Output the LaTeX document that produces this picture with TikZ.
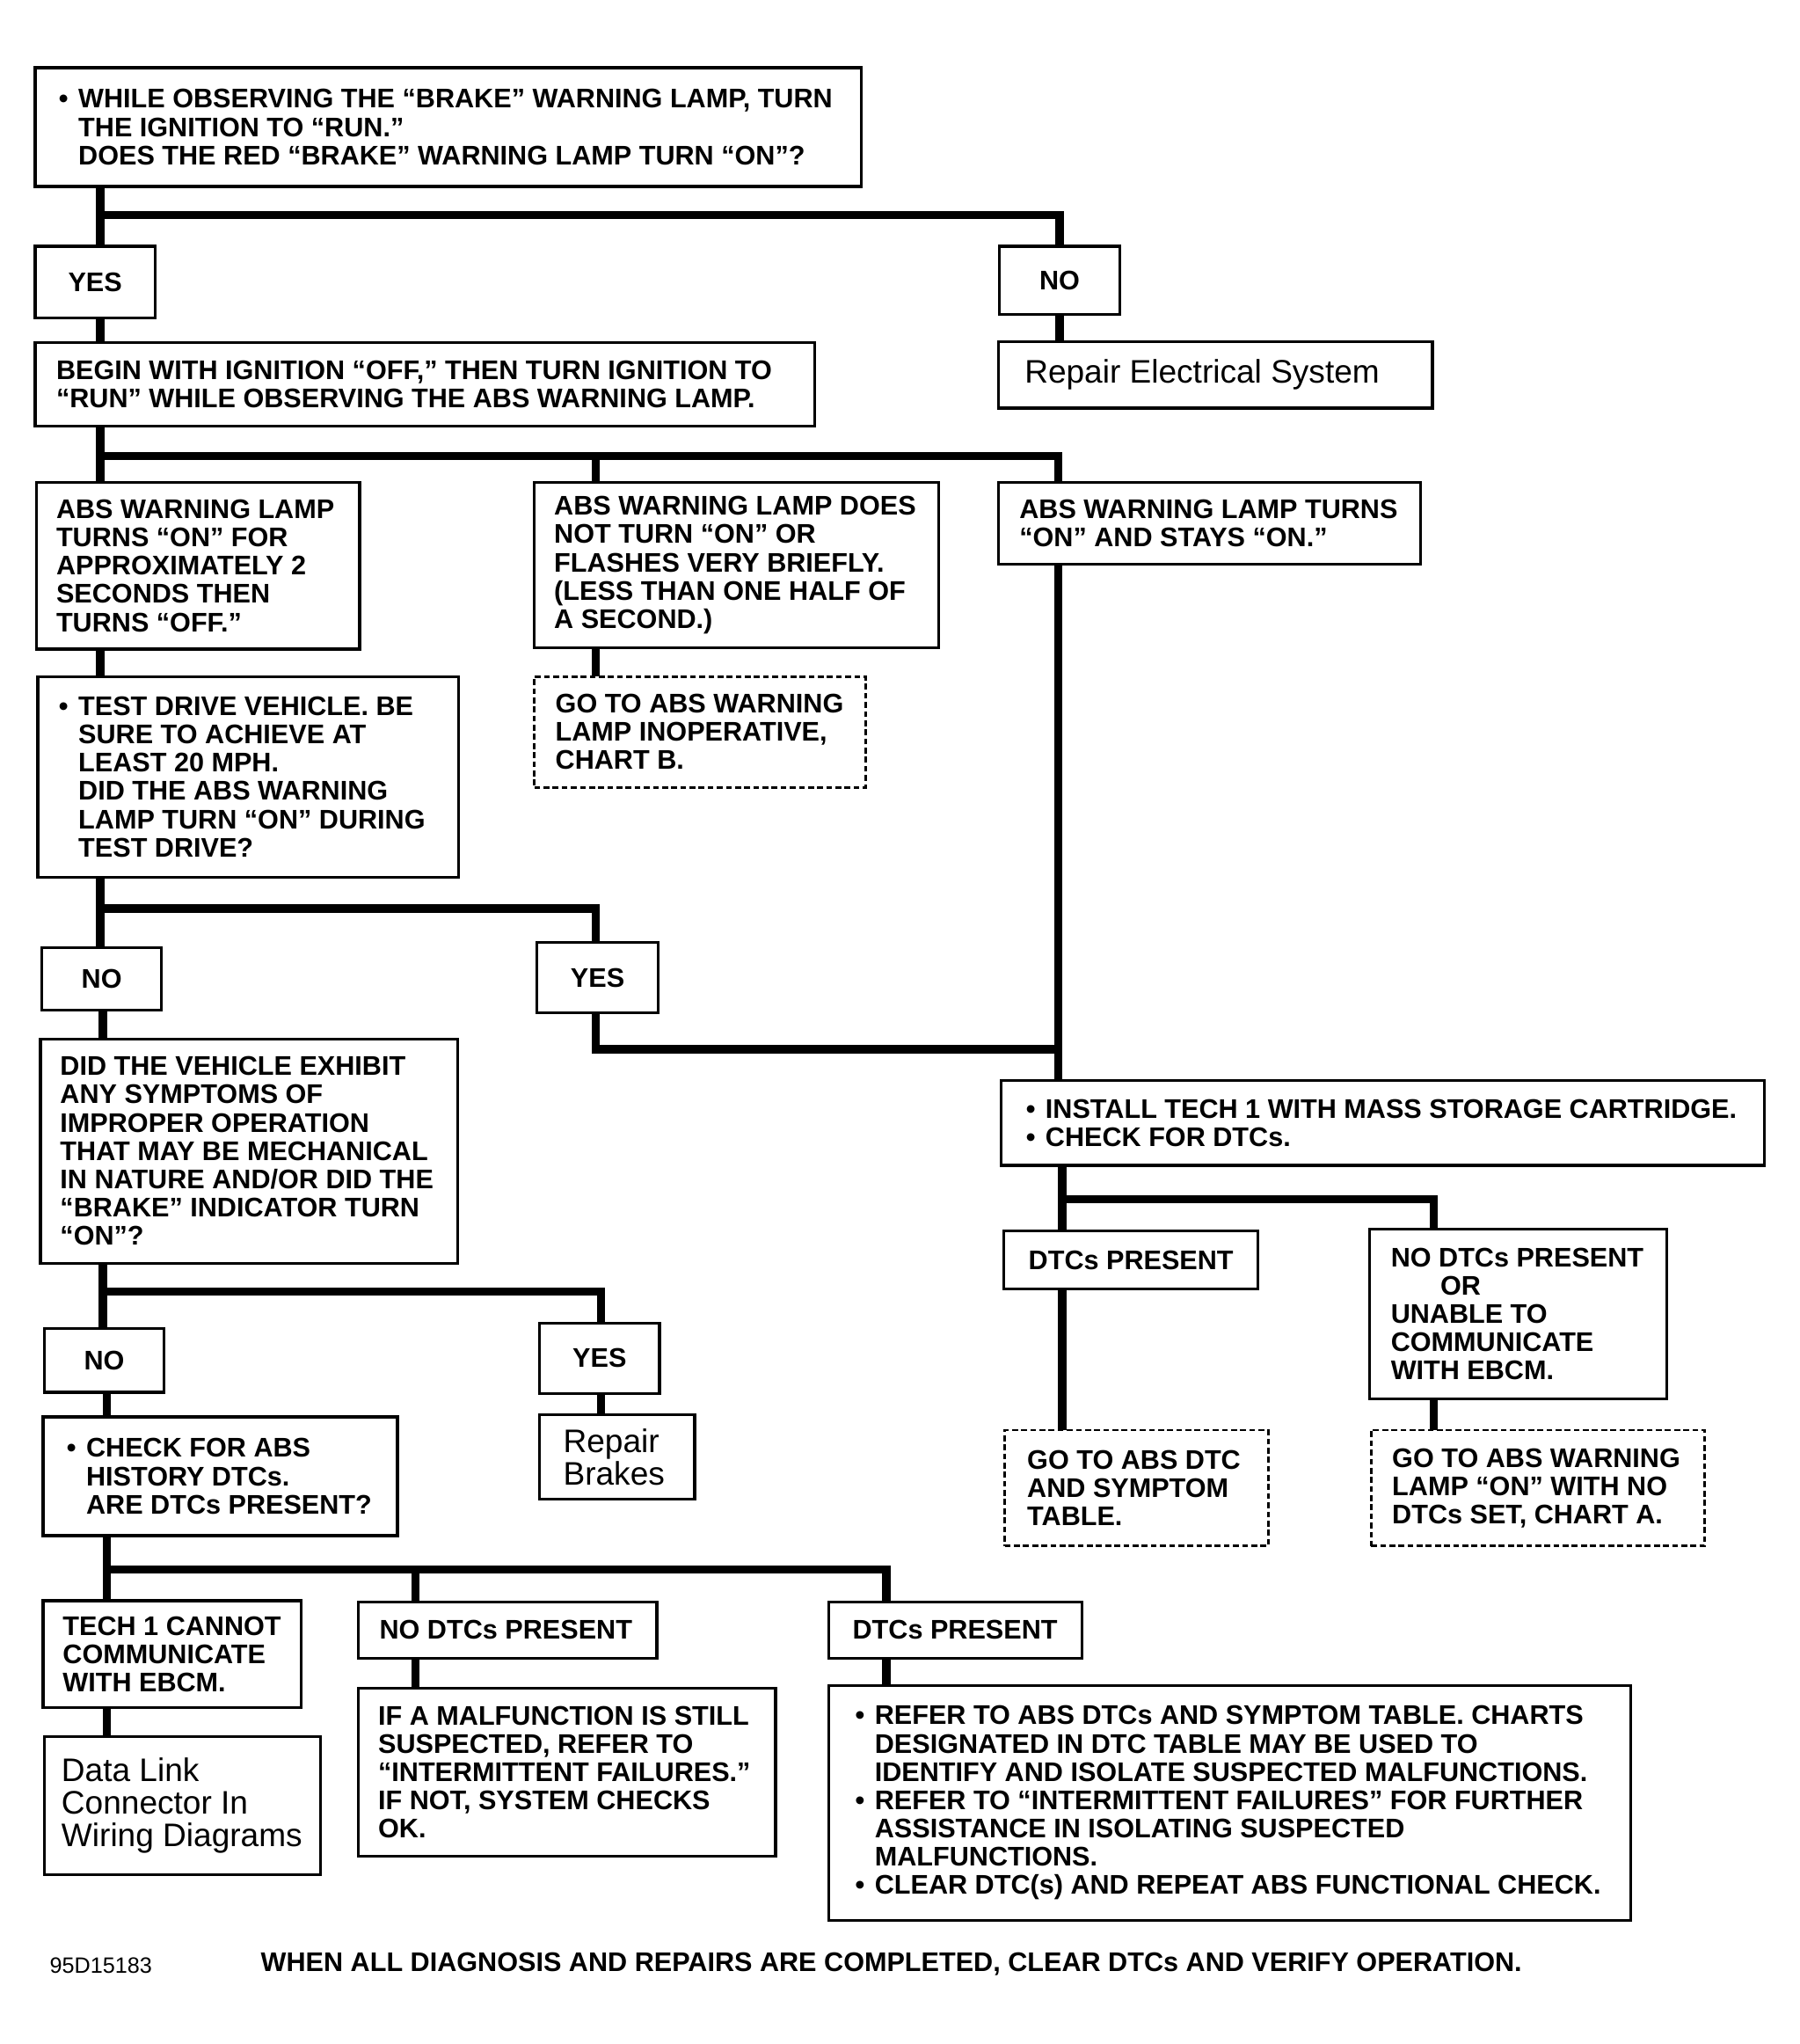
\documentclass[tikz,border=0pt]{standalone}
\usepackage{fontspec}
\setmainfont{Liberation Sans}
\newcommand\bfnt{\fontsize{20.65pt}{21.7pt}\selectfont\bfseries}
\newcommand\rfnt{\fontsize{25pt}{25pt}\selectfont}
\newcommand\sfnt{\fontsize{17pt}{17pt}\selectfont}
\newcommand\bul{\makebox[15pt][l]{•}}
\newcommand\ind{\hspace*{15pt}}
\begin{document}
\begin{tikzpicture}[x=1pt,y=-1pt,
  box/.style={draw, line width=2.2pt, rectangle, inner sep=0pt, outer sep=0pt, anchor=north west},
  dbox/.style={box, line width=1.9pt, dash pattern=on 4.5pt off 2.5pt},
  yn/.style={box, font=\bfnt},
  txt/.style={anchor=west, align=left, inner sep=0pt, font=\bfnt},
  rtxt/.style={anchor=west, align=left, inner sep=0pt, font=\rfnt},
  conn/.style={line width=6.3pt, line join=miter}]
\path[fill=white] (0,0) rectangle (1381,1568);
% ---------------- boxes ----------------
\node[box, minimum width=634pt, minimum height=91pt] (b1) at (27,52) {};
\node[yn, minimum width=92pt, minimum height=55pt] (yes1) at (27,189) {YES};
\node[yn, minimum width=92pt, minimum height=52pt] (no1) at (767,189) {NO};
\node[box, minimum width=598pt, minimum height=64pt] (b2) at (27,263) {};
\node[box, minimum width=333pt, minimum height=51pt] (rep1) at (766,262) {};
\node[box, minimum width=248pt, minimum height=128pt] (b3a) at (28,370) {};
\node[box, minimum width=310pt, minimum height=127pt] (b3b) at (410,370) {};
\node[box, minimum width=324pt, minimum height=63pt] (b3c) at (766,370) {};
\node[box, minimum width=323pt, minimum height=154pt] (b4) at (29,519) {};
\node[dbox, minimum width=254pt, minimum height=85pt] (gob) at (410,519) {};
\node[yn, minimum width=92pt, minimum height=48pt] (no2) at (32,727) {NO};
\node[yn, minimum width=93pt, minimum height=54pt] (yes2) at (412,723) {YES};
\node[box, minimum width=320pt, minimum height=172pt] (b6) at (31,797) {};
\node[box, minimum width=586pt, minimum height=65pt] (b5) at (768,829) {};
\node[box, minimum width=195pt, minimum height=45pt] (dp1) at (770,944) {};
\node[box, minimum width=228pt, minimum height=130pt] (nd1) at (1051,943) {};
\node[dbox, minimum width=202pt, minimum height=89pt] (god) at (771,1097) {};
\node[dbox, minimum width=256pt, minimum height=89pt] (goa) at (1052,1097) {};
\node[yn, minimum width=92pt, minimum height=49pt] (no3) at (34,1019) {NO};
\node[yn, minimum width=92pt, minimum height=54pt] (yes3) at (414,1015) {YES};
\node[box, minimum width=119pt, minimum height=65pt] (repb) at (414,1085) {};
\node[box, minimum width=272pt, minimum height=91pt] (b7) at (33,1087) {};
\node[box, minimum width=198pt, minimum height=82pt] (t1) at (33,1228) {};
\node[box, minimum width=229pt, minimum height=43pt] (nd2) at (275,1229) {};
\node[box, minimum width=194pt, minimum height=43pt] (dp2) at (636,1229) {};
\node[box, minimum width=212pt, minimum height=106pt] (dl) at (34,1332) {};
\node[box, minimum width=320pt, minimum height=129pt] (im) at (275,1295) {};
\node[box, minimum width=615pt, minimum height=180pt] (ref) at (636,1293) {};
% ---------------- texts ----------------
\node[txt] (b1t) at (b1.west -| 45,0) {\bul WHILE OBSERVING THE “BRAKE” WARNING LAMP, TURN\\\ind THE IGNITION TO “RUN.”\\\ind DOES THE RED “BRAKE” WARNING LAMP TURN “ON”?};
\node[txt] (b2t) at (b2.west -| 43,0) {BEGIN WITH IGNITION “OFF,” THEN TURN IGNITION TO\\“RUN” WHILE OBSERVING THE ABS WARNING LAMP.};
\node[rtxt] (rep1t) at (rep1.west -| 786,0) {Repair Electrical System};
\node[txt] (b3at) at (b3a.west -| 43,0) {ABS WARNING LAMP\\TURNS “ON” FOR\\APPROXIMATELY 2\\SECONDS THEN\\TURNS “OFF.”};
\node[txt] (b3bt) at (b3b.west -| 425,0) {ABS WARNING LAMP DOES\\NOT TURN “ON” OR\\FLASHES VERY BRIEFLY.\\(LESS THAN ONE HALF OF\\A SECOND.)};
\node[txt] (b3ct) at (b3c.west -| 782,0) {ABS WARNING LAMP TURNS\\“ON” AND STAYS “ON.”};
\node[txt] (b4t) at (b4.west -| 45,0) {\bul TEST DRIVE VEHICLE. BE\\\ind SURE TO ACHIEVE AT\\\ind LEAST 20 MPH.\\\ind DID THE ABS WARNING\\\ind LAMP TURN “ON” DURING\\\ind TEST DRIVE?};
\node[txt] (gobt) at (gob.west -| 426,0) {GO TO ABS WARNING\\LAMP INOPERATIVE,\\CHART B.};
\node[txt] (b6t) at (b6.west -| 46,0) {DID THE VEHICLE EXHIBIT\\ANY SYMPTOMS OF\\IMPROPER OPERATION\\THAT MAY BE MECHANICAL\\IN NATURE AND/OR DID THE\\“BRAKE” INDICATOR TURN\\“ON”?};
\node[txt] (b5t) at (b5.west -| 787,0) {\bul INSTALL TECH 1 WITH MASS STORAGE CARTRIDGE.\\\bul CHECK FOR DTCs.};
\node[txt] (dp1t) at (dp1.west -| 789,0) {DTCs PRESENT};
\node[txt] (nd1t) at (nd1.west -| 1067,0) {NO DTCs PRESENT\\\hspace*{38pt}OR\\UNABLE TO\\COMMUNICATE\\WITH EBCM.};
\node[txt] (godt) at (god.west -| 788,0) {GO TO ABS DTC\\AND SYMPTOM\\TABLE.};
\node[txt] (goat) at (goa.west -| 1068,0) {GO TO ABS WARNING\\LAMP “ON” WITH NO\\DTCs SET, CHART A.};
\node[rtxt] (repbt) at (repb.west -| 432,0) {Repair\\Brakes};
\node[txt] (b7t) at (b7.west -| 51,0) {\bul CHECK FOR ABS\\\ind HISTORY DTCs.\\\ind ARE DTCs PRESENT?};
\node[txt] (t1t) at (t1.west -| 48,0) {TECH 1 CANNOT\\COMMUNICATE\\WITH EBCM.};
\node[txt] (nd2t) at (nd2.west -| 291,0) {NO DTCs PRESENT};
\node[txt] (dp2t) at (dp2.west -| 654,0) {DTCs PRESENT};
\node[rtxt] (dlt) at (dl.west -| 47,0) {Data Link\\Connector In\\Wiring Diagrams};
\node[txt] (imt) at (im.west -| 290,0) {IF A MALFUNCTION IS STILL\\SUSPECTED, REFER TO\\“INTERMITTENT FAILURES.”\\IF NOT, SYSTEM CHECKS\\OK.};
\node[txt] (reft) at (ref.west -| 656,0) {\bul REFER TO ABS DTCs AND SYMPTOM TABLE. CHARTS\\\ind DESIGNATED IN DTC TABLE MAY BE USED TO\\\ind IDENTIFY AND ISOLATE SUSPECTED MALFUNCTIONS.\\\bul REFER TO “INTERMITTENT FAILURES” FOR FURTHER\\\ind ASSISTANCE IN ISOLATING SUSPECTED\\\ind MALFUNCTIONS.\\\bul CLEAR DTC(s) AND REPEAT ABS FUNCTIONAL CHECK.};
\node[anchor=west, inner sep=0pt, font=\sfnt] (fid) at (38,1508) {95D15183};
\node[txt] (fnote) at (200,1507) {WHEN ALL DIAGNOSIS AND REPAIRS ARE COMPLETED, CLEAR DTCs AND VERIFY OPERATION.};
% ---------------- connectors ----------------
\coordinate (j1) at (77,165);
\draw[conn] (b1.south -| j1) -- (yes1.north -| j1);
\draw[conn] (j1) -| (no1.north);
\draw[conn] (yes1.south -| j1) -- (b2.north -| j1);
\draw[conn] (no1.south) -- (rep1.north -| no1.south);
\coordinate (j2) at (77,350);
\coordinate (j2m) at (457,350);
\coordinate (j2r) at (812,350);
\draw[conn] (b2.south -| j2) -- (b3a.north -| j2);
\draw[conn] (j2) -- (j2r) -- (b3c.north -| j2r);
\draw[conn] (j2m) -- (b3b.north -| j2m);
\draw[conn] (b3a.south -| j2) -- (b4.north -| j2);
\draw[conn] (b3b.south -| j2m) -- (gob.north -| j2m);
\coordinate (j3) at (77,697);
\coordinate (j3r) at (457,697);
\draw[conn] (b4.south -| j3) -- (no2.north -| j3);
\draw[conn] (j3) -- (j3r) -- (yes2.north -| j3r);
\coordinate (j4) at (812,805);
\draw[conn] (yes2.south -| j3r) |- (j4);
\draw[conn] (b3c.south -| j2r) -- (b5.north -| j2r);
\coordinate (j5) at (79,991);
\coordinate (j5r) at (461,991);
\draw[conn] (no2.south -| j5) -- (b6.north -| j5);
\draw[conn] (b6.south -| j5) -- (no3.north -| j5);
\draw[conn] (j5) -- (j5r) -- (yes3.north -| j5r);
\draw[conn] (yes3.south -| j5r) -- (repb.north -| j5r);
\coordinate (j6) at (82,1204);
\coordinate (j6m) at (319,1204);
\coordinate (j6r) at (680,1204);
\draw[conn] (no3.south -| j6) -- (b7.north -| j6);
\draw[conn] (b7.south -| j6) -- (t1.north -| j6);
\draw[conn] (j6) -- (j6r) -- (dp2.north -| j6r);
\draw[conn] (j6m) -- (nd2.north -| j6m);
\draw[conn] (t1.south -| j6) -- (dl.north -| j6);
\draw[conn] (nd2.south -| j6m) -- (im.north -| j6m);
\draw[conn] (dp2.south -| j6r) -- (ref.north -| j6r);
\coordinate (j7) at (815,920);
\coordinate (j7r) at (1100,920);
\draw[conn] (b5.south -| j7) -- (dp1.north -| j7);
\draw[conn] (j7) -- (j7r) -- (nd1.north -| j7r);
\draw[conn] (dp1.south -| j7) -- (god.north -| j7);
\draw[conn] (nd1.south -| j7r) -- (goa.north -| j7r);
\end{tikzpicture}
\end{document}
